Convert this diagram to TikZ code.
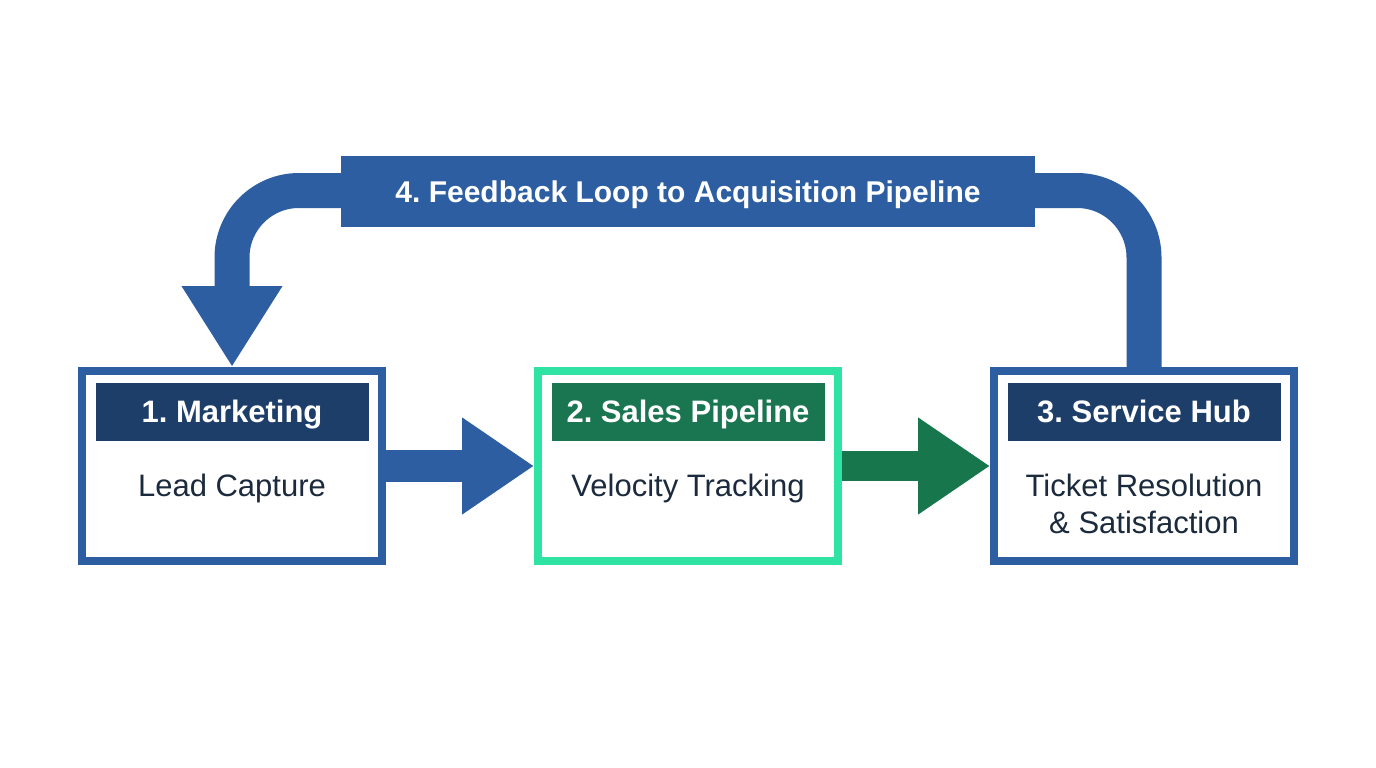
\documentclass[tikz,border=0pt]{standalone}
\usepackage{fontspec}
\setmainfont{Liberation Sans}
\usetikzlibrary{arrows.meta}
\definecolor{pblue}{HTML}{2D5EA2}
\definecolor{navy}{HTML}{1E3E6A}
\definecolor{mint}{HTML}{2EE3A4}
\definecolor{ghdr}{HTML}{1A7650}
\definecolor{garrow}{HTML}{18764D}
\definecolor{ink}{HTML}{1B2A3C}
\tikzset{
  stagebox/.style={draw, line width=8pt, fill=white, minimum width=300pt, minimum height=190pt, inner sep=0pt},
  hdr/.style={minimum width=273pt, minimum height=58pt, inner sep=0pt, text=white,
    font=\fontsize{31}{37}\selectfont\bfseries, text height=21pt, text depth=0pt},
  bodytxt/.style={text=ink, font=\fontsize{31}{37}\selectfont, inner sep=0pt, anchor=base, align=center},
  fatarrow/.style={line width=32pt, -{Triangle[length=72pt,width=92pt]}},
  looparrow/.style={line width=35pt, pblue, rounded corners=67pt, -{Triangle[length=81pt,width=95pt]}},
  looplabel/.style={fill=pblue, minimum width=694pt, minimum height=71pt, inner sep=0pt, text=white,
    font=\fontsize{30}{36}\selectfont\bfseries, text height=21pt, text depth=0pt}
}
\begin{document}
\frenchspacing
\begin{tikzpicture}[x=1pt,y=-1pt]
\useasboundingbox[fill=white] (0,0) rectangle (1376,768);
% boxes
\node[stagebox, draw=pblue] (m) at (232,466) {};
\node[stagebox, draw=mint] (s) at (688,466) {};
\node[stagebox, draw=pblue] (h) at (1144,466) {};
% headers
\node[hdr, fill=navy] (mh) at (232,412) {1. Marketing};
\node[hdr, fill=ghdr] (sh) at (688,412) {2. Sales Pipeline};
\node[hdr, fill=navy] (hh) at (1144,412) {3. Service Hub};
% body texts
\node[bodytxt] (mt) at (232,496) {Lead Capture};
\node[bodytxt] (st) at (688,496) {Velocity Tracking};
\node[bodytxt] (ht1) at (1144,496) {Ticket Resolution};
\node[bodytxt] (ht2) at (1144,533) {\& Satisfaction};
% connectors
\draw[fatarrow, pblue] (m.east) -- (s.west);
\draw[fatarrow, garrow, line width=30pt] (s.east) -- (h.west);
% feedback loop
\coordinate (fbc) at (688,190.5);
\draw[looparrow] (h.north) |- (fbc) -| (m.north);
\node[looplabel] (fb) at (688,191.5) {4. Feedback Loop to Acquisition Pipeline};
\end{tikzpicture}
\end{document}
